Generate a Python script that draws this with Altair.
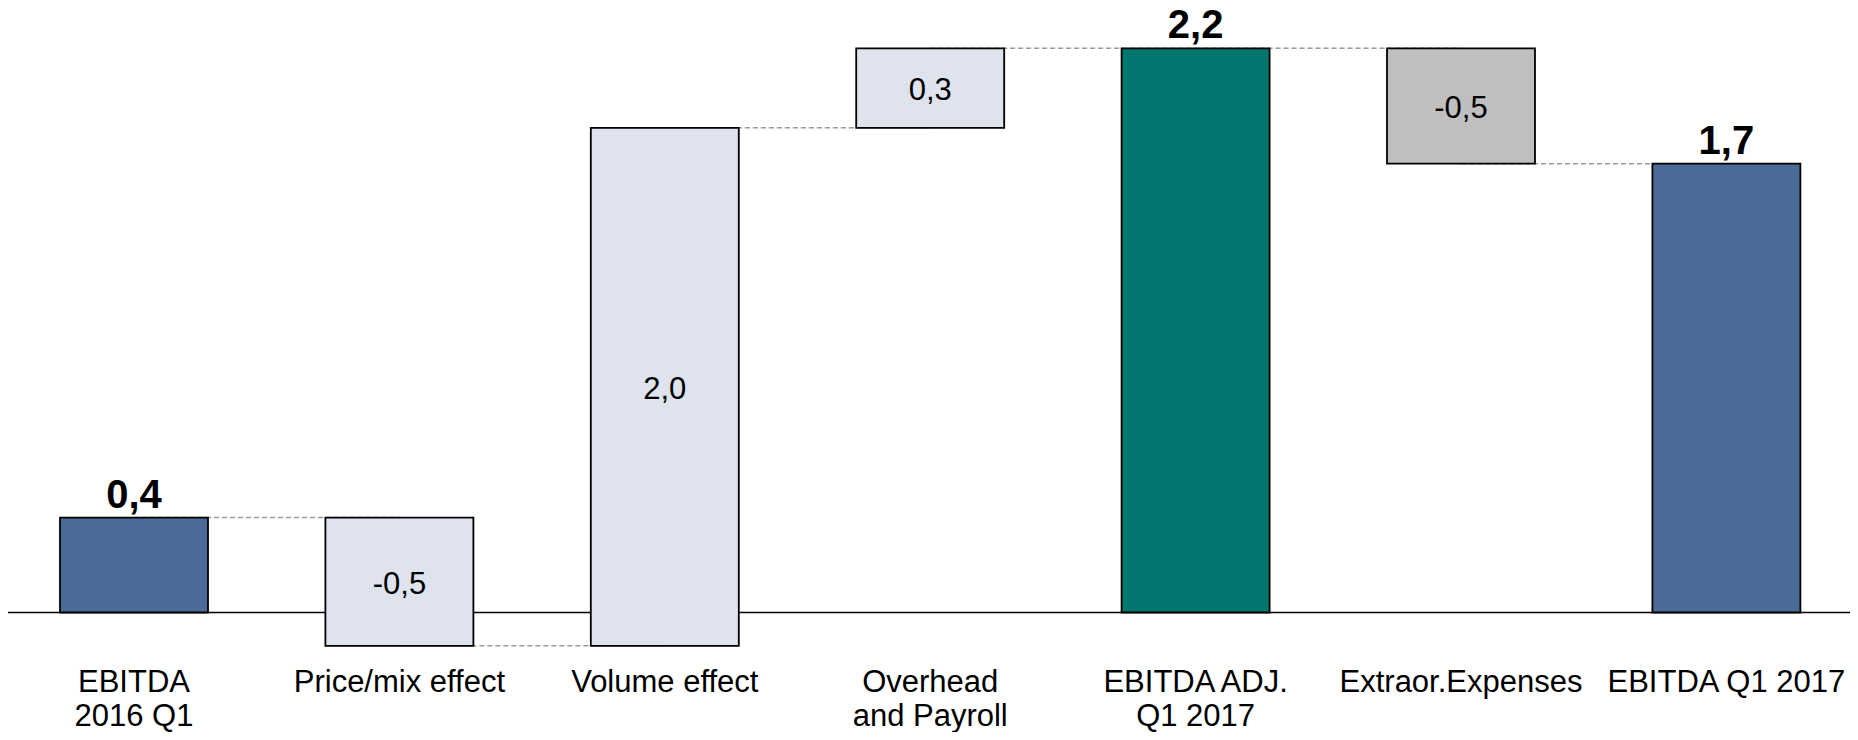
import altair as alt
import pandas as pd

categories = ["EBITDA\n2016 Q1", "Price/mix effect", "Volume effect", "Overhead\nand Payroll",
              "EBITDA ADJ.\nQ1 2017", "Extraor.Expenses", "EBITDA Q1 2017"]
values = [0.37, -0.50, 2.02, 0.31, 2.20, -0.45, 1.75]
kinds = ["total", "delta", "delta", "delta", "total", "delta", "total"]
value_labels = ["0,4", "-0,5", "2,0", "0,3", "2,2", "-0,5", "1,7"]
colors = ["#4A6A98", "#DEE3ED", "#DEE3ED", "#DEE3ED", "#027770", "#BFBFBF", "#4A6A98"]

rows = []
level = 0.0
for c, v, k, lab, col in zip(categories, values, kinds, value_labels, colors):
    if k == "total":
        base, end = 0.0, v
    else:
        base, end = level, level + v
    level = end
    rows.append({"cat": c, "base": base, "end": end, "mid": (base + end) / 2,
                 "kind": k, "label": lab, "color": col})
df = pd.DataFrame(rows)

conn = pd.DataFrame({
    "from": categories[:-1],
    "to": categories[1:],
    "y": [r["end"] for r in rows[:-1]],
})

W, H = 1842, 642
xscale = alt.Scale(domain=categories, paddingInner=0.4424, paddingOuter=0.19145, align=0.5118, round=False)
yscale = alt.Scale(domain=[-0.1462, 2.3571], nice=False, zero=False, round=False)

xaxis = alt.Axis(title=None, domain=False, ticks=False, tickSize=0, labelAngle=0,
                 labelFont="Liberation Sans", labelFontSize=31, labelColor="#000000",
                 labelPadding=17, labelLineHeight=34.5, labelLimit=600, labelOverlap=False,
                 labelExpr="split(datum.label, '\\n')")

baseline = alt.Chart(pd.DataFrame({"v": [0]})).mark_rule(color="#000000", strokeWidth=1.7).encode(
    y=alt.Y("v:Q", scale=yscale, axis=None)
)

connectors = alt.Chart(conn).mark_rule(color="#9A9A9A", strokeWidth=1.5, strokeDash=[5, 3]).encode(
    x=alt.X("from:N", scale=xscale, axis=xaxis, sort=categories),
    x2="to:N",
    y=alt.Y("y:Q", scale=yscale, axis=None),
)

bars = alt.Chart(df).mark_bar(stroke="#000000", strokeWidth=1.8).encode(
    x=alt.X("cat:N", scale=xscale, axis=xaxis, sort=categories),
    y=alt.Y("base:Q", scale=yscale, axis=None),
    y2="end:Q",
    fill=alt.Color("color:N", scale=None),
)

delta_text = alt.Chart(df).transform_filter(alt.datum.kind == "delta").mark_text(
    font="Liberation Sans", fontSize=31, color="#000000", baseline="middle", dy=3
).encode(
    x=alt.X("cat:N", scale=xscale, axis=xaxis, sort=categories),
    y=alt.Y("mid:Q", scale=yscale, axis=None),
    text="label:N",
)

total_text = alt.Chart(df).transform_filter(alt.datum.kind == "total").mark_text(
    font="Liberation Sans", fontSize=40, fontWeight="bold", color="#000000",
    baseline="alphabetic", dy=-10
).encode(
    x=alt.X("cat:N", scale=xscale, axis=xaxis, sort=categories),
    y=alt.Y("end:Q", scale=yscale, axis=None),
    text="label:N",
)

chart = alt.layer(baseline, connectors, bars, delta_text, total_text).properties(
    width=W, height=H,
    autosize=alt.AutoSizeParams(type="none"),
    padding={"left": 0, "top": 0, "right": 0, "bottom": 82},
    background="#FFFFFF",
).configure_view(stroke=None)

chart.save("out.html", embed_options={"renderer": "svg", "actions": False})
